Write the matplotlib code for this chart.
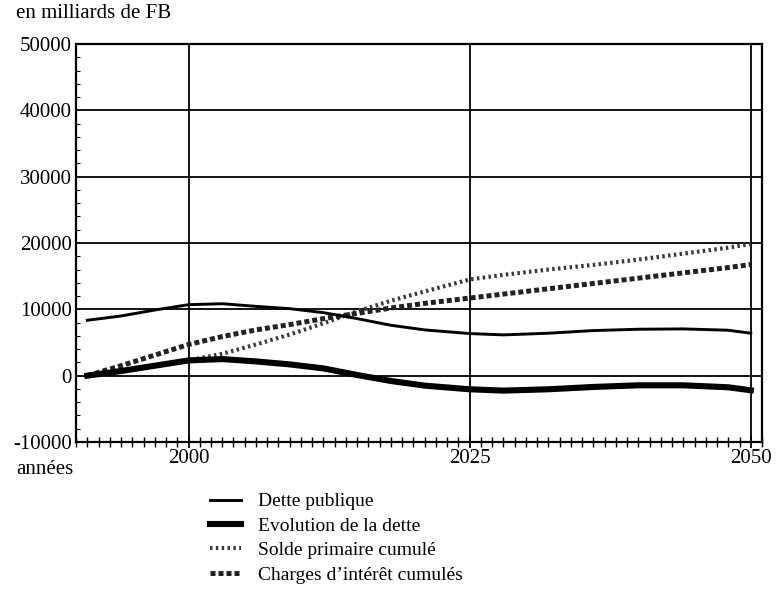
import matplotlib
matplotlib.use("Agg")
import matplotlib.pyplot as plt
from matplotlib.ticker import MultipleLocator

# données (milliards de FB)
years = [1991, 1994, 1997, 2000, 2003, 2006, 2009, 2012, 2015, 2018,
         2021, 2025, 2028, 2032, 2036, 2040, 2044, 2048, 2050]
dette = [8350, 9000, 9900, 10700, 10850, 10450, 10100, 9500, 8600, 7600,
         6900, 6350, 6150, 6400, 6800, 7000, 7050, 6850, 6400]
evolution = [0, 700, 1500, 2300, 2500, 2150, 1700, 1100, 100, -800,
             -1500, -2050, -2250, -2050, -1700, -1450, -1450, -1750, -2200]
solde = [0, 700, 1500, 2300, 3300, 4700, 6200, 7900, 9700, 11300,
         12700, 14500, 15200, 16000, 16700, 17500, 18400, 19300, 19850]
charges = [0, 1500, 3100, 4700, 5900, 6900, 7700, 8600, 9400, 10200,
           10900, 11700, 12300, 13100, 13900, 14700, 15500, 16300, 16750]

labels = ["Dette publique", "Evolution de la dette",
          "Solde primaire cumulé", "Charges d\u2019intérêt cumulés"]
x_ticks = [2000, 2025, 2050]
y_ticks = [-10000, 0, 10000, 20000, 30000, 40000, 50000]

plt.rcParams["font.family"] = ["Liberation Serif", "DejaVu Serif"]
plt.rcParams["axes.unicode_minus"] = False

fig = plt.figure(figsize=(7.76, 6.06), dpi=100)
ax = fig.add_axes([0.098, 0.2706, 0.884, 0.6568])

for y in y_ticks:
    ax.axhline(y, color="black", lw=1.3, zorder=1)
for x in x_ticks:
    ax.axvline(x, color="black", lw=1.3, zorder=1)

l1, = ax.plot(years, dette, color="black", lw=2.1, zorder=3)
l2, = ax.plot(years, evolution, color="black", lw=4.4, zorder=3)
l3, = ax.plot(years, solde, color="#3a3a3a", lw=3.0,
              linestyle=(0, (0.6, 0.8)), zorder=2)
l4, = ax.plot(years, charges, color="#222222", lw=3.6,
              linestyle=(0, (1.0, 0.6)), zorder=2)

ax.set_xlim(1990, 2051)
ax.set_ylim(-10000, 50000)
ax.set_xticks(x_ticks)
ax.set_yticks(y_ticks)
ax.xaxis.set_minor_locator(MultipleLocator(1))
ax.yaxis.set_minor_locator(MultipleLocator(2000))
ax.tick_params(axis="x", which="major", direction="inout", length=8,
               width=1.3, labelsize=15, pad=1)
ax.tick_params(axis="x", which="minor", direction="inout", length=7,
               width=1.0)
ax.tick_params(axis="y", which="major", length=0, labelsize=15, pad=3)
ax.tick_params(axis="y", which="minor", direction="in", length=3,
               width=0.8)
for s in ax.spines.values():
    s.set_linewidth(1.6)

fig.text(16 / 776, 1 - 14 / 606, "en milliards de FB", fontsize=15,
         va="center", ha="left")
fig.text(16 / 776, 1 - 470 / 606, "années", fontsize=15,
         va="center", ha="left")

fig.legend([l1, l2, l3, l4], labels, loc="upper left",
           bbox_to_anchor=(200 / 776, 1 - 483 / 606), frameon=False,
           fontsize=14, handlelength=1.6, handletextpad=0.9,
           labelspacing=0.35, borderpad=0)

fig.savefig("out.png", dpi=100)
